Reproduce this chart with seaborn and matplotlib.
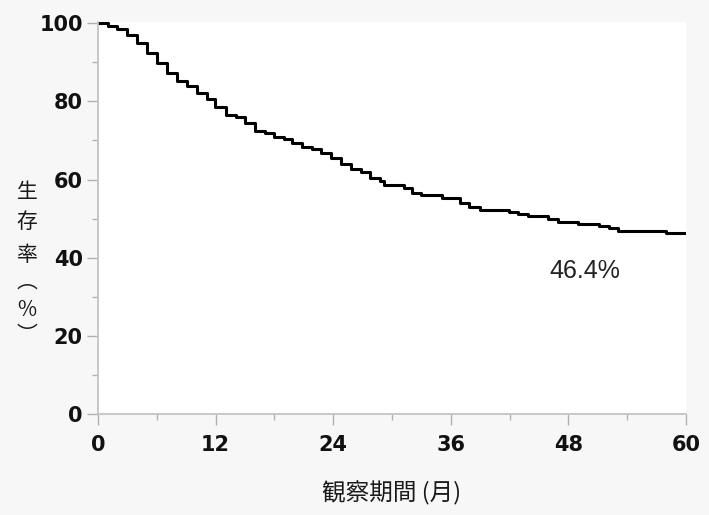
import numpy as np
import pandas as pd
import matplotlib
matplotlib.use("Agg")
import matplotlib.pyplot as plt
from matplotlib.ticker import MultipleLocator
import seaborn as sns

# ---- data ----
months = [0, 1.0, 1.9, 3.0, 4.0, 5.0, 6.0, 7.0, 8.1, 9.1, 10.1, 11.1, 11.9, 13.1, 14.1,
          15.0, 16.0, 17.0, 18.0, 19.0, 19.8, 20.8, 21.8, 22.8, 23.8, 24.8, 25.8, 26.8,
          27.8, 28.8, 29.2, 31.2, 32.0, 33.0, 35.1, 36.9, 37.9, 39.0, 41.9, 42.9, 43.9,
          45.9, 46.9, 49.0, 51.1, 52.1, 53.1, 58.0, 60.0]
survival = [100, 99.2, 98.4, 97.1, 95.0, 92.4, 89.8, 87.2, 85.1, 83.8, 82.2, 80.5, 78.6, 76.5, 75.9,
            74.5, 72.5, 71.8, 70.9, 70.3, 69.4, 68.4, 67.7, 66.7, 65.4, 63.9, 62.8, 62.0,
            60.5, 59.7, 58.6, 57.7, 56.6, 56.0, 55.3, 53.9, 53.0, 52.2, 51.7, 51.2, 50.7,
            50.0, 49.2, 48.6, 48.1, 47.5, 46.9, 46.4, 46.4]
x_ticks = [0, 12, 24, 36, 48, 60]
y_ticks = [0, 20, 40, 60, 80, 100]
x_label = "観察期間 (月)"
y_label_chars = ["生", "存", "率", "︵", "%", "︶"]
final_label = "46.4%"

sns.set_theme(style="white")
plt.rcParams['font.family'] = ['DejaVu Sans', 'Noto Sans CJK JP']

df = pd.DataFrame({"month": months, "surv": survival})

W, H = 709, 515
fig = plt.figure(figsize=(W / 100, H / 100), dpi=100, facecolor="#f7f7f7")
ax = fig.add_axes([98 / W, 1 - 414 / H, (686 - 98) / W, (414 - 22) / H])
ax.set_facecolor("white")

sns.lineplot(data=df, x="month", y="surv", ax=ax, color="black", linewidth=2.2,
             drawstyle="steps-post", estimator=None, sort=False)

ax.set_xlim(0, 60)
ax.set_ylim(0, 100.3)
ax.set_xticks(x_ticks)
ax.set_yticks(y_ticks)
ax.xaxis.set_minor_locator(MultipleLocator(6))
ax.yaxis.set_minor_locator(MultipleLocator(10))

for s in ["top", "right"]:
    ax.spines[s].set_visible(False)
for s in ["left", "bottom"]:
    ax.spines[s].set_color("#c4c4c4")
    ax.spines[s].set_linewidth(1.3)

ax.tick_params(axis="both", which="major", direction="out", length=8, width=1.0,
               color="#b0b0b0", labelsize=15, labelcolor="#111111")
ax.tick_params(axis="both", which="minor", direction="out", length=4, width=1.0,
               color="#b0b0b0")
ax.tick_params(axis="y", which="major", pad=3)
ax.tick_params(axis="x", which="major", pad=7)
ax.tick_params(axis="both", which="both", left=True, bottom=True)
for lab in ax.get_xticklabels() + ax.get_yticklabels():
    lab.set_fontweight("bold")

ax.set_xlabel("")
ax.set_ylabel("")
fig.text(392 / W, 1 - 493 / H, x_label, ha="center", va="center", fontsize=17,
         color="#1a1a1a", family=["Noto Sans CJK JP", "DejaVu Sans"])

y_positions = [192, 222, 255, 282, 310, 335]
for ch, yp in zip(y_label_chars, y_positions):
    fig.text(27 / W, 1 - yp / H, ch, ha="center", va="center", fontsize=15,
             color="#1a1a1a", family=["Noto Sans CJK JP", "DejaVu Sans"])

ax.text(49.7, 36.6, final_label, ha="center", va="center", fontsize=18,
        color="#222222", family=["Liberation Sans", "DejaVu Sans"])

fig.savefig("out.png", dpi=100, facecolor=fig.get_facecolor())
